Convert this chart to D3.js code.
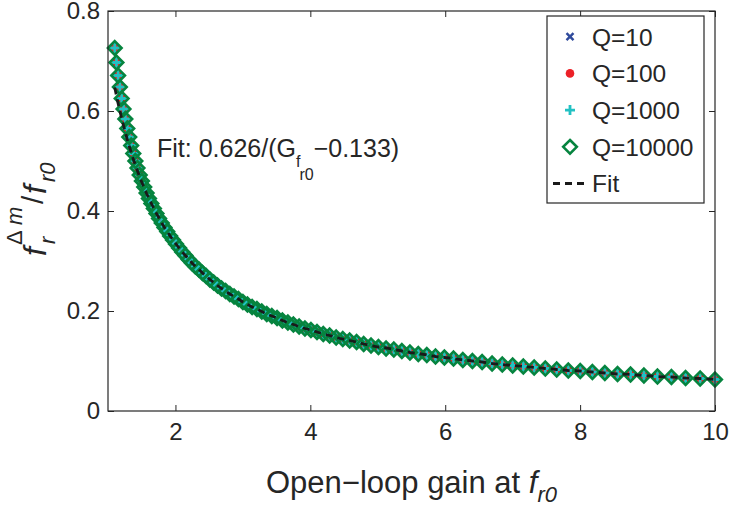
<!DOCTYPE html>
<html>
<head>
<meta charset="utf-8">
<script src="https://cdn.jsdelivr.net/npm/d3@7"></script>
<style>
  html, body { margin: 0; padding: 0; background: #fff; }
  svg { display: block; font-family: "Liberation Sans", Arial, Helvetica, sans-serif; }
</style>
</head>
<body>
<svg id="chart" width="729" height="508"></svg>
<script>
// ---------- data ----------
const gain = [1.100,1.125,1.150,1.176,1.203,1.230,1.257,1.286,1.315,1.344,
  1.375,1.406,1.437,1.470,1.503,1.537,1.572,1.607,1.643,1.680,
  1.718,1.757,1.797,1.837,1.878,1.921,1.964,2.008,2.054,2.100,
  2.147,2.196,2.245,2.296,2.348,2.401,2.455,2.510,2.567,2.624,
  2.684,2.744,2.806,2.869,2.934,3.000,3.068,3.137,3.208,3.280,
  3.354,3.429,3.507,3.586,3.667,3.749,3.834,3.920,4.009,4.099,
  4.192,4.286,4.383,4.481,4.583,4.686,4.791,4.900,5.010,5.123,
  5.238,5.357,5.477,5.601,5.727,5.856,5.988,6.123,6.261,6.403,
  6.547,6.695,6.846,7.000,7.158,7.319,7.484,7.653,7.825,8.002,
  8.182,8.367,8.555,8.748,8.946,9.147,9.354,9.564,9.780,10.000];

// f_r^Δm / f_r0 (all four Q series overlap)
const ratioQ10 = [0.726,0.697,0.671,0.648,0.625,0.604,0.584,0.565,0.548,0.531,
  0.515,0.500,0.486,0.472,0.460,0.448,0.436,0.425,0.415,0.405,
  0.395,0.385,0.376,0.367,0.359,0.350,0.342,0.334,0.326,0.318,
  0.311,0.303,0.296,0.289,0.283,0.276,0.270,0.263,0.257,0.251,
  0.245,0.240,0.234,0.229,0.224,0.218,0.213,0.208,0.204,0.199,
  0.194,0.190,0.186,0.181,0.177,0.173,0.169,0.165,0.162,0.158,
  0.154,0.151,0.147,0.144,0.141,0.138,0.134,0.131,0.128,0.125,
  0.123,0.120,0.117,0.114,0.112,0.109,0.107,0.105,0.102,0.100,
  0.098,0.095,0.093,0.091,0.089,0.087,0.085,0.083,0.081,0.080,
  0.078,0.076,0.074,0.073,0.071,0.069,0.068,0.066,0.065,0.063];
const ratioQ100 = ratioQ10.slice();
const ratioQ1000 = ratioQ10.slice();
const ratioQ10000 = ratioQ10.slice();

// fit curve 0.626/(G - 0.133) evaluated at the same gains
const fitValues = [0.647,0.631,0.615,0.600,0.585,0.571,0.557,0.543,0.530,0.517,
  0.504,0.492,0.480,0.468,0.457,0.446,0.435,0.425,0.415,0.405,
  0.395,0.386,0.376,0.367,0.359,0.350,0.342,0.334,0.326,0.318,
  0.311,0.304,0.296,0.289,0.283,0.276,0.270,0.263,0.257,0.251,
  0.245,0.240,0.234,0.229,0.224,0.218,0.213,0.208,0.204,0.199,
  0.194,0.190,0.186,0.181,0.177,0.173,0.169,0.165,0.162,0.158,
  0.154,0.151,0.147,0.144,0.141,0.138,0.134,0.131,0.128,0.126,
  0.123,0.120,0.117,0.115,0.112,0.109,0.107,0.105,0.102,0.100,
  0.098,0.095,0.093,0.091,0.089,0.087,0.085,0.083,0.081,0.080,
  0.078,0.076,0.074,0.073,0.071,0.069,0.068,0.066,0.065,0.063];

const seriesNames = ["Q=10", "Q=100", "Q=1000", "Q=10000"];
const xTicks = [2, 4, 6, 8, 10];
const yTicks = [0, 0.2, 0.4, 0.6, 0.8];
const fitLabel = "Fit";

// ---------- layout ----------
const svg = d3.select("#chart");
const L = 108, R = 715, T = 11, B = 411;
const x = d3.scaleLinear().domain([1, 10]).range([L, R]);
const y = d3.scaleLinear().domain([0, 0.8]).range([B, T]);
const ink = "#262626";

const colors = { "Q=10": "#2f4a9c", "Q=100": "#ec2027", "Q=1000": "#22c1c3", "Q=10000": "#06843f" };
const seriesData = { "Q=10": ratioQ10, "Q=100": ratioQ100, "Q=1000": ratioQ1000, "Q=10000": ratioQ10000 };

function drawMarker(g, name) {
  const c = colors[name];
  if (name === "Q=10") {
    g.append("path").attr("d", "M-3.5,-3.5L3.5,3.5M-3.5,3.5L3.5,-3.5")
      .attr("stroke", c).attr("stroke-width", 2.4).attr("fill", "none");
  } else if (name === "Q=100") {
    g.append("circle").attr("r", 4.3).attr("fill", c);
  } else if (name === "Q=1000") {
    g.append("path").attr("d", "M-5,0L5,0M0,-5L0,5")
      .attr("stroke", c).attr("stroke-width", 2.8).attr("fill", "none");
  } else {
    g.append("path").attr("d", "M0,-6.8L6.8,0L0,6.8L-6.8,0Z")
      .attr("stroke", c).attr("stroke-width", 2.6).attr("fill", "none");
  }
}

// ---------- data marks ----------
const plot = svg.append("g");
seriesNames.forEach(name => {
  const g = plot.append("g").attr("class", "series");
  seriesData[name].forEach((v, i) => {
    const m = g.append("g").attr("transform", `translate(${x(gain[i])},${y(v)})`);
    drawMarker(m, name);
  });
});

const line = d3.line().x((d, i) => x(gain[i])).y(d => y(d));
plot.append("path").datum(fitValues).attr("d", line)
  .attr("fill", "none").attr("stroke", "#1a1a1a").attr("stroke-width", 2.8)
  .attr("stroke-dasharray", "7,5");

// ---------- axes ----------
const tickLen = 6;
const axB = svg.append("g").attr("transform", `translate(0,${B})`)
  .call(d3.axisBottom(x).tickValues(xTicks).tickSizeInner(-tickLen).tickSizeOuter(0).tickPadding(12).tickFormat(d3.format("d")));
const axT = svg.append("g").attr("transform", `translate(0,${T})`)
  .call(d3.axisTop(x).tickValues(xTicks).tickSizeInner(-tickLen).tickSizeOuter(0).tickFormat(""));
const axL = svg.append("g").attr("transform", `translate(${L},0)`)
  .call(d3.axisLeft(y).tickValues(yTicks).tickSizeInner(-tickLen).tickSizeOuter(0).tickPadding(8).tickFormat(d => d === 0 ? "0" : d3.format(".1f")(d)));
const axR = svg.append("g").attr("transform", `translate(${R},0)`)
  .call(d3.axisRight(y).tickValues(yTicks).tickSizeInner(-tickLen).tickSizeOuter(0).tickFormat(""));
[axB, axT, axL, axR].forEach(a => {
  a.select(".domain").remove();
  a.selectAll("line").attr("stroke", ink).attr("stroke-width", 1);
  a.selectAll("text").attr("fill", ink).style("font-size", "24px").style("font-family", "'Liberation Sans', Arial, sans-serif");
});
axB.selectAll("text").attr("dy", "0.71em");
svg.append("rect").attr("x", L).attr("y", T).attr("width", R - L).attr("height", B - T)
  .attr("fill", "none").attr("stroke", ink).attr("stroke-width", 1.2);

// ---------- axis labels ----------
const xl = svg.append("text").attr("x", (L + R) / 2).attr("y", 493).attr("text-anchor", "middle")
  .attr("fill", ink).style("font-size", "31px");
xl.append("tspan").text("Open\u2212loop gain at ");
xl.append("tspan").attr("font-style", "italic").text("f");
xl.append("tspan").attr("font-style", "italic").attr("font-size", "22px").attr("dy", 9).text("r0");

const yl = svg.append("text").attr("transform", "translate(46,256) rotate(-90)")
  .attr("fill", ink).style("font-size", "32px");
yl.append("tspan").attr("x", 0).attr("y", 0).attr("font-style", "italic").text("f");
yl.append("tspan").attr("x", 12).attr("y", 9).attr("font-style", "italic").attr("font-size", "22px").text("r");
yl.append("tspan").attr("x", 11).attr("y", -24).attr("font-size", "22px").text("\u0394");
yl.append("tspan").attr("x", 31).attr("y", -24).attr("font-style", "italic").attr("font-size", "22px").text("m");
yl.append("tspan").attr("x", 52).attr("y", -3).attr("font-size", "30px").text("/");
yl.append("tspan").attr("x", 62).attr("y", 0).attr("font-style", "italic").text("f");
yl.append("tspan").attr("x", 74).attr("y", 9).attr("font-style", "italic").attr("font-size", "22px").text("r0");

// ---------- fit annotation ----------
const ft = svg.append("text").attr("x", 157).attr("y", 157).attr("fill", ink).style("font-size", "25px");
ft.append("tspan").text("Fit: 0.626/(G");
ft.append("tspan").attr("font-size", "16px").attr("dy", 10).text("f");
ft.append("tspan").attr("font-size", "16px").attr("dy", 13).attr("dx", -1).text("r0");
ft.append("tspan").attr("dy", -23).attr("dx", 0).text("\u22120.133)");

// ---------- legend ----------
const lg = svg.append("g");
lg.append("rect").attr("x", 547).attr("y", 16).attr("width", 157).attr("height", 187)
  .attr("fill", "#fff").attr("stroke", ink).attr("stroke-width", 1.2);
const rowY = d => 36.7 + d * 36.7;
seriesNames.forEach((name, i) => {
  const m = lg.append("g").attr("transform", `translate(570,${rowY(i)})`);
  drawMarker(m, name);
  lg.append("text").attr("x", 592).attr("y", rowY(i)).attr("dy", "0.36em")
    .attr("fill", ink).style("font-size", "24.5px").text(name);
});
lg.append("line").attr("x1", 553).attr("x2", 586).attr("y1", rowY(4)).attr("y2", rowY(4))
  .attr("stroke", "#1a1a1a").attr("stroke-width", 2.8).attr("stroke-dasharray", "7,5");
lg.append("text").attr("x", 592).attr("y", rowY(4)).attr("dy", "0.36em")
  .attr("fill", ink).style("font-size", "24.5px").text(fitLabel);
</script>
</body>
</html>
